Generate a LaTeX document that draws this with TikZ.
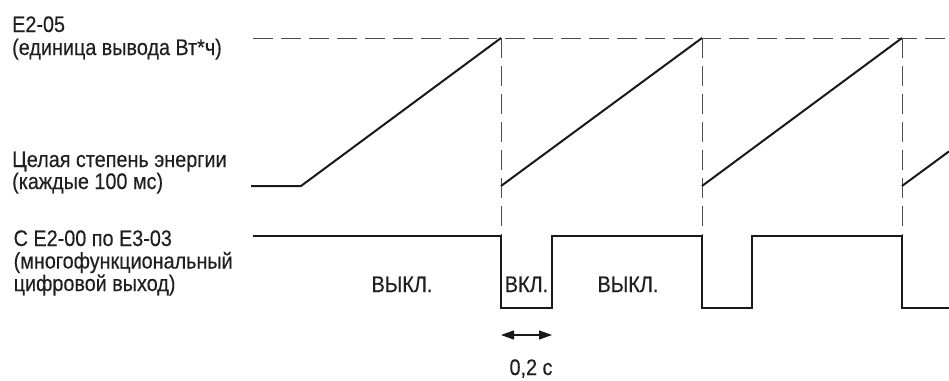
\documentclass[tikz,border=0pt]{standalone}
\usepackage{fontspec}
\setmainfont{Liberation Sans}[FakeStretch=0.88,FakeBold=0.3]
\usetikzlibrary{arrows.meta}
\begin{document}
\begin{tikzpicture}[x=1pt,y=-1pt,
  lbl/.style={anchor=base west,inner sep=0pt,font=\fontsize{22.5}{24}\selectfont,text=black!88},
  state/.style={anchor=base,inner sep=0pt,font=\fontsize{22.5}{24}\selectfont,text=black!88},
  guide/.style={line width=1pt,black!70,dash pattern=on 20pt off 8pt},
  signal/.style={line width=2pt,black!90,line join=miter},
  span/.style={line width=1.2pt,black!90,{Triangle[length=13pt,width=9pt]}-{Triangle[length=13pt,width=9pt]}}]
\useasboundingbox (0,0) rectangle (949,380);
% labels
\node[lbl] (e205) at (12,32) {E2-05};
\node[lbl] (e205u) at (12,55) {(единица вывода Вт*ч)};
\node[lbl] (en1) at (12,167) {Целая степень энергии};
\node[lbl] (en2) at (12,189) {(каждые 100 мс)};
\node[lbl] (mf1) at (13.5,246) {С E2-00 по E3-03};
\node[lbl] (mf2) at (13.5,268.5) {(многофункциональный};
\node[lbl] (mf3) at (13.5,291) {цифровой выход)};
\node[state] (off1) at (402,292) {ВЫКЛ.};
\node[state] (on1) at (526.5,292) {ВКЛ.};
\node[state] (off2) at (628,292) {ВЫКЛ.};
\node[state] (dt) at (531,375) {0,2 с};
% coordinates
\coordinate (t0) at (253,38);
\coordinate (tE) at (949,38);
\coordinate (p1) at (501,38);
\coordinate (p2) at (702,38);
\coordinate (p3) at (902,38);
\coordinate (q1) at (501,236);
\coordinate (q2) at (702,236);
\coordinate (q3) at (902,236);
\coordinate (a0) at (251,186);
\coordinate (a1) at (301,186);
\coordinate (r1) at (501,186);
\coordinate (r2) at (702,186);
\coordinate (r3) at (902,186);
\coordinate (rE) at (949,151.4);
\coordinate (s0) at (253,236);
\coordinate (sE) at (949,308);
\coordinate (w1) at (501,335);
\coordinate (w2) at (552,335);
% guides
\draw[guide] (t0) -- (tE);
\draw[guide] (p1) -- (q1);
\draw[guide] (p2) -- (q2);
\draw[guide] (p3) -- (q3);
% energy sawtooth
\draw[signal] (a0) -- (a1) -- (p1);
\draw[signal] (r1) -- (p2);
\draw[signal] (r2) -- (p3);
\draw[signal] (r3) -- (rE);
% pulse output
\draw[signal] (s0) -- (q1) -- (501,308) -- (552,308) -- (552,236) -- (q2) -- (702,308) -- (752,308) -- (752,236) -- (q3) -- (902,308) -- (sE);
% width arrow
\draw[span] (w1) -- (w2);
\end{tikzpicture}
\end{document}
